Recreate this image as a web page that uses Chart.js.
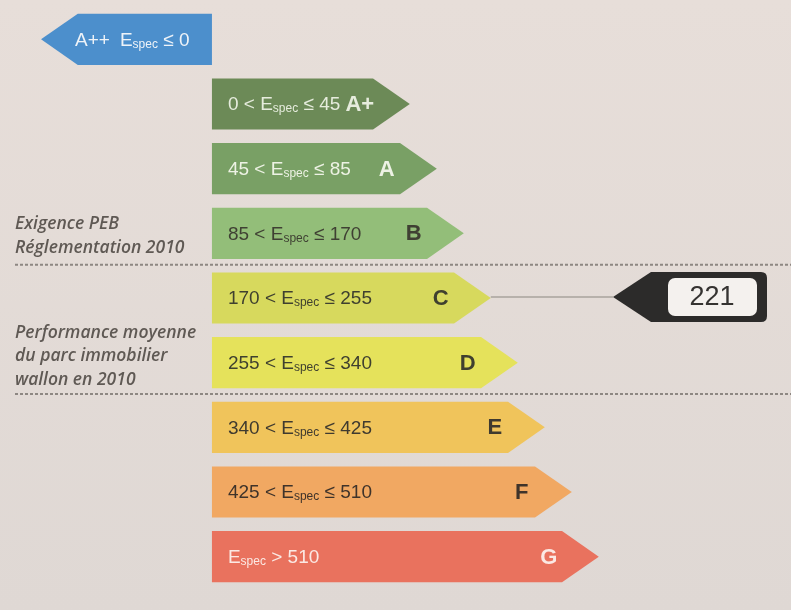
<!DOCTYPE html>
<html lang="fr">
  <head>
    <meta charset="UTF-8" />
    <title>Certificat PEB</title>
    <style>
      html, body { margin: 0; padding: 0; background: #e4dcd7; }
      .chart-view { width: 791px; height: 610px; }
    </style>
  </head>
  <body>
    <div class="chart-view">
      <canvas id="chart"></canvas>
    </div>

    <script src="https://cdn.jsdelivr.net/npm/chart.js@4.4.1/dist/chart.umd.min.js"></script>
    <script>
      //data
      const classes = ['A++', 'A+', 'A', 'B', 'C', 'D', 'E', 'F', 'G'];
      const lowerBounds = [null, 0, 45, 85, 170, 255, 340, 425, 510];
      const upperBounds = [0, 45, 85, 170, 255, 340, 425, 510, null];
      const classRank = [0, 1, 2, 3, 4, 5, 6, 7, 8];
      const buildingValue = 221;
      const noteExigence = ['Exigence PEB', 'Réglementation 2010'];
      const noteMoyenne = ['Performance moyenne', 'du parc immobilier', 'wallon en 2010'];

      //style
      const barColors = ['#4c8fcc', '#6c8a57', '#79a065', '#93be79', '#d7d95d', '#e5e25b', '#f0c45b', '#f1a862', '#e9725e'];
      const textColors = ['#eef3f8', '#e6ecdd', '#edf2e4', '#3f4033', '#3f402f', '#3f402f', '#3f3a2f', '#3f332a', '#fbe9e4'];
      const BODY = 6.33; // longueur de base d'une flèche (en pas de classe)

      const barData = classRank.map(function (r) {
        return r === 0 ? [-BODY, 0] : [0, BODY + r];
      });

      function rangeParts(i) {
        const lo = lowerBounds[i], hi = upperBounds[i];
        if (lo === null) return [['E', false], ['spec', true], [' \u2264 ' + hi, false]];
        if (hi === null) return [['E', false], ['spec', true], [' > ' + lo, false]];
        return [[lo + ' < E', false], ['spec', true], [' \u2264 ' + hi, false]];
      }

      function drawParts(ctx, parts, x, y, size) {
        parts.forEach(function (p) {
          ctx.font = (p[1] ? Math.round(size * 0.62) : size) + 'px "Liberation Sans", Arial, sans-serif';
          ctx.fillText(p[0], x, p[1] ? y + size * 0.22 : y);
          x += ctx.measureText(p[0]).width;
        });
        return x;
      }

      function arrowPath(ctx, left, right, top, bottom, pointLeft) {
        const h = bottom - top, d = h * 0.72, cy = (top + bottom) / 2;
        ctx.beginPath();
        if (pointLeft) {
          ctx.moveTo(left, cy);
          ctx.lineTo(left + d, top);
          ctx.lineTo(right, top);
          ctx.lineTo(right, bottom);
          ctx.lineTo(left + d, bottom);
        } else {
          ctx.moveTo(left, top);
          ctx.lineTo(right - d, top);
          ctx.lineTo(right, cy);
          ctx.lineTo(right - d, bottom);
          ctx.lineTo(left, bottom);
        }
        ctx.closePath();
      }

      const labelPlugin = {
        id: 'label',
        beforeDraw(chart) {
          const ctx = chart.ctx;
          ctx.save();
          const g = ctx.createLinearGradient(0, 0, 0, chart.height);
          g.addColorStop(0, '#e7ded9');
          g.addColorStop(1, '#dfd8d4');
          ctx.fillStyle = g;
          ctx.fillRect(0, 0, chart.width, chart.height);
          ctx.restore();
        },
        afterDatasetsDraw(chart) {
          const ctx = chart.ctx;
          const meta = chart.getDatasetMeta(0);
          const rows = meta.data.map(function (el) {
            return el.getProps(['x', 'y', 'base', 'height'], true);
          });
          ctx.save();

          // séparateurs pointillés
          ctx.strokeStyle = '#8d8782';
          ctx.lineWidth = 2;
          ctx.setLineDash([3, 2]);
          [[3, 4], [5, 6]].forEach(function (p) {
            const yy = (rows[p[0]].y + rows[p[1]].y) / 2 - 1;
            ctx.beginPath();
            ctx.moveTo(15, yy);
            ctx.lineTo(chart.chartArea.right, yy);
            ctx.stroke();
          });
          ctx.setLineDash([]);

          // flèches de classe
          rows.forEach(function (r, i) {
            const left = Math.min(r.x, r.base), right = Math.max(r.x, r.base);
            const top = r.y - r.height / 2, bottom = r.y + r.height / 2;
            const pointLeft = classRank[i] === 0;
            arrowPath(ctx, left, right, top, bottom, pointLeft);
            ctx.fillStyle = barColors[i];
            ctx.fill();

            ctx.fillStyle = textColors[i];
            ctx.textBaseline = 'middle';
            ctx.textAlign = 'left';
            if (pointLeft) {
              ctx.font = '19px "Liberation Sans", Arial, sans-serif';
              ctx.fillText(classes[i], left + 34, r.y + 1);
              const w = ctx.measureText(classes[i]).width;
              drawParts(ctx, rangeParts(i), left + 34 + w + 10, r.y + 1, 19);
            } else {
              drawParts(ctx, rangeParts(i), left + 16, r.y + 1, 19);
              ctx.textAlign = 'center';
              ctx.font = 'bold 22px "Liberation Sans", Arial, sans-serif';
              ctx.fillText(classes[i], right - 50, r.y + 1);
            }
          });

          // textes de gauche
          ctx.fillStyle = '#5f5954';
          ctx.textAlign = 'left';
          ctx.font = 'italic 600 17.5px "Open Sans", sans-serif';
          const yB = rows[3].y;
          noteExigence.forEach(function (t, k) {
            ctx.fillText(t, 15, yB - 9 + k * 24);
          });
          const yD = rows[5].y;
          noteMoyenne.forEach(function (t, k) {
            ctx.fillText(t, 15, yD - 30 + k * 23.5);
          });

          // indicateur de la valeur du bâtiment
          const idx = lowerBounds.findIndex(function (lo, i) {
            const hi = upperBounds[i];
            return (lo === null || buildingValue > lo) && (hi === null || buildingValue <= hi);
          });
          const row = rows[idx];
          const tipX = 613, bodyR = 767, mTop = row.y - 26, mBot = row.y + 24, my = (mTop + mBot) / 2;
          ctx.strokeStyle = '#a9a39d';
          ctx.lineWidth = 1.5;
          ctx.beginPath();
          ctx.moveTo(row.x, my);
          ctx.lineTo(tipX, my);
          ctx.stroke();

          ctx.fillStyle = '#2c2b2a';
          ctx.beginPath();
          ctx.moveTo(tipX, my);
          ctx.lineTo(tipX + 38, mTop);
          ctx.lineTo(bodyR - 6, mTop);
          ctx.quadraticCurveTo(bodyR, mTop, bodyR, mTop + 6);
          ctx.lineTo(bodyR, mBot - 6);
          ctx.quadraticCurveTo(bodyR, mBot, bodyR - 6, mBot);
          ctx.lineTo(tipX + 38, mBot);
          ctx.closePath();
          ctx.fill();

          ctx.fillStyle = '#f4f1ee';
          ctx.beginPath();
          ctx.roundRect(668, mTop + 6, 89, mBot - mTop - 12, 7);
          ctx.fill();

          ctx.fillStyle = '#353331';
          ctx.textAlign = 'center';
          ctx.font = '27px "Liberation Sans", Arial, sans-serif';
          ctx.fillText(String(buildingValue), 712, my + 1);
          ctx.restore();
        }
      };

      //config
      const config = {
        type: 'bar',
        data: {
          labels: classes,
          datasets: [
            {
              label: 'Classes PEB',
              data: barData,
              backgroundColor: 'rgba(0,0,0,0)',
              borderWidth: 0,
              categoryPercentage: 1,
              barPercentage: 0.79
            }
          ]
        },
        options: {
          indexAxis: 'y',
          responsive: true,
          maintainAspectRatio: false,
          animation: false,
          layout: { padding: { top: 7, bottom: 21, left: 0, right: 0 } },
          plugins: {
            legend: { display: false },
            tooltip: { enabled: false }
          },
          scales: {
            x: { display: false, min: -7.85, max: 21.45 },
            y: { display: false }
          }
        },
        plugins: [labelPlugin]
      };

      //init
      const ctx = document.getElementById('chart');
      const chart = new Chart(ctx, config);
    </script>
  </body>
</html>
